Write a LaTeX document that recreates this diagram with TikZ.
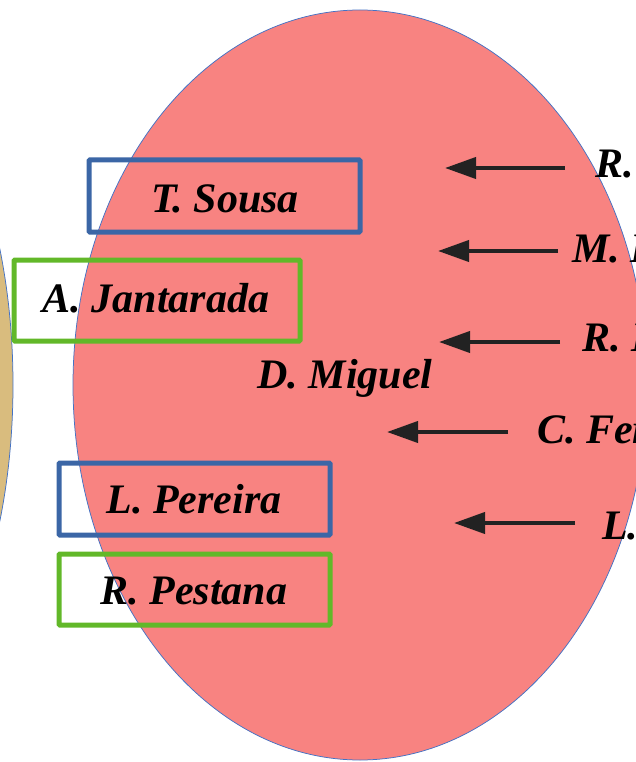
\documentclass[tikz,border=0pt]{standalone}
\usepackage{fontspec}
\setmainfont{Liberation Serif}
\usetikzlibrary{arrows.meta}
\definecolor{ellred}{HTML}{F88381}
\definecolor{elltan}{HTML}{D9BC7E}
\definecolor{ellborder}{HTML}{4472C4}
\definecolor{boxblue}{HTML}{3B66A6}
\definecolor{boxgreen}{HTML}{62B829}
\definecolor{arrowcol}{HTML}{222222}
\tikzset{
  namebox/.style={line width=5pt, rounded corners=1pt},
  bluebox/.style={namebox, draw=boxblue},
  greenbox/.style={namebox, draw=boxgreen},
  lbl/.style={inner sep=0pt, font=\fontsize{42}{50}\selectfont\bfseries\itshape, text=black},
  ptr/.style={line width=4pt, draw=arrowcol, -{Triangle[length=31pt,width=21pt]}},
}
\begin{document}
\begin{tikzpicture}[x=1pt,y=-1pt]
\useasboundingbox (0,0) rectangle (636,762);
\clip (0,0) rectangle (636,762);
% ellipses
\fill[elltan, draw=ellborder, line width=0.75pt] (-181,385) ellipse [x radius=194, y radius=375];
\fill[ellred, draw=ellborder, line width=0.75pt] (360,385) ellipse [x radius=287, y radius=375];
% boxes
\draw[bluebox] (89,160) rectangle (360,232);
\draw[greenbox] (14,260) rectangle (300,341);
\draw[bluebox] (59,463) rectangle (330,535);
\draw[greenbox] (59,554) rectangle (330,625);
% names
\node[lbl, anchor=base] (sousa) at (225,212) {T. Sousa};
\node[lbl, anchor=base] (jant) at (156,312) {A. Jantarada};
\node[lbl, anchor=base] (per) at (194,513) {L. Pereira};
\node[lbl, anchor=base] (pest) at (194,604) {R. Pestana};
\node[lbl, anchor=base] (mig) at (345,388) {D. Miguel};
% right labels
\node[lbl, anchor=base west] (r1) at (595,178) {R.};
\node[lbl, anchor=base west] (r2) at (572,262) {M. I};
\node[lbl, anchor=base west] (r3) at (582,351) {R. I};
\node[lbl, anchor=base west] (r4) at (537,443) {C. Fer};
\node[lbl, anchor=base west] (r5) at (602,539) {L.};
% arrows
\coordinate (t1) at (565,168); \coordinate (h1) at (445,168);
\coordinate (t2) at (558,251); \coordinate (h2) at (438,251);
\coordinate (t3) at (560,342); \coordinate (h3) at (439,342);
\coordinate (t4) at (508,432); \coordinate (h4) at (387,432);
\coordinate (t5) at (575,523); \coordinate (h5) at (454,523);
\draw[ptr] (t1) -- (h1);
\draw[ptr] (t2) -- (h2);
\draw[ptr] (t3) -- (h3);
\draw[ptr] (t4) -- (h4);
\draw[ptr] (t5) -- (h5);
\end{tikzpicture}
\end{document}
